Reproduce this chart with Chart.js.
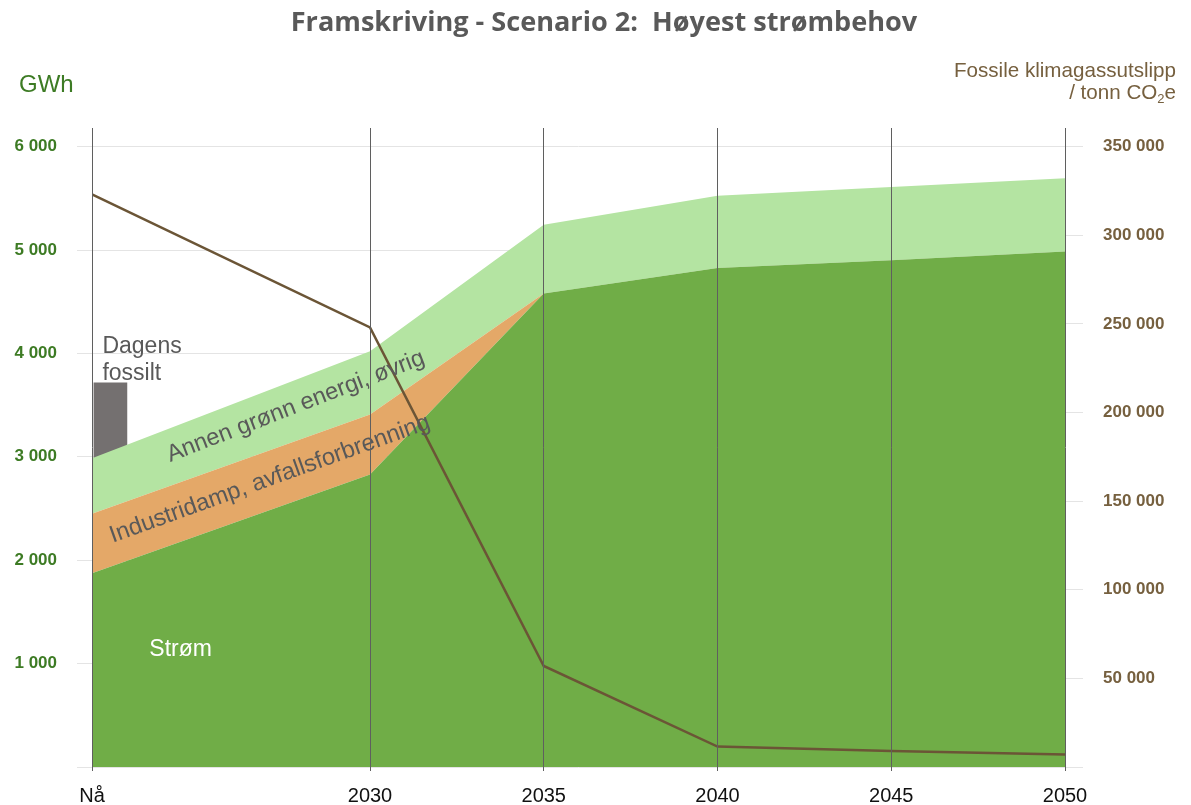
<!DOCTYPE html>
<html>
<head>
<meta charset="utf-8">
<script src="https://cdn.jsdelivr.net/npm/chart.js@4"></script>
<style>
  html, body { margin: 0; padding: 0; background: #fff; }
  #wrap { width: 1191px; height: 805px; position: relative; }
</style>
</head>
<body>
<div id="wrap"><canvas id="chart"></canvas></div>
<script>
// Framskriving - Scenario 2: energibehov (GWh) og fossile utslipp (tonn CO2e)
const years = [2022, 2030, 2035, 2040, 2045, 2050];
const yearLabels = ["Nå", "2030", "2035", "2040", "2045", "2050"];
const gwhTicks = [0, 1000, 2000, 3000, 4000, 5000, 6000];
const co2Ticks = [0, 50000, 100000, 150000, 200000, 250000, 300000, 350000];

// GWh, stacked
const strom = [1875, 2830, 4580, 4825, 4900, 4985];
const industridamp = [575, 580, 0, 0, 0, 0];
const annenGronn = [535, 610, 665, 700, 710, 710];

// Dagens fossilt (floating bar next to "Nå")
const dagensFossilt = [2985, 3715];
const dagensFossiltX = 2022.53;

// tonn CO2e
const utslipp = [323000, 248000, 57000, 11500, 9000, 7000];

const leftMax = 6180;
const rightMax = leftMax * 350000 / 6000;

const GREEN_TXT = "#3D7B24";
const BROWN_TXT = "#76603F";
const GREY_TXT = "#595959";
const FONT = "'Liberation Sans', Arial, sans-serif";

function fmt(v) {
  return String(v).replace(/\B(?=(\d{3})+(?!\d))/g, " ");
}

const annotations = {
  id: "annotations",
  afterDatasetsDraw(chart) {
    const { ctx, scales } = chart;
    const x = scales.x, y = scales.y;
    ctx.save();
    ctx.fillStyle = GREY_TXT;
    ctx.textAlign = "left";
    ctx.textBaseline = "alphabetic";
    ctx.font = `23px ${FONT}`;
    ctx.fillText("Dagens", x.getPixelForValue(2022.3), y.getPixelForValue(4000));
    ctx.fillText("fossilt", x.getPixelForValue(2022.3), y.getPixelForValue(3740));

    const rotated = [
      { text: "Annen grønn energi, øvrig", x: 2024.25, y: 2950, angle: -21.1, size: 23.6 },
      { text: "Industridamp, avfallsforbrenning", x: 2022.6, y: 2170, angle: -19.8, size: 23.8 },
    ];
    rotated.forEach((r) => {
      ctx.save();
      ctx.font = `${r.size}px ${FONT}`;
      ctx.translate(x.getPixelForValue(r.x), y.getPixelForValue(r.y));
      ctx.rotate(r.angle * Math.PI / 180);
      ctx.fillText(r.text, 0, 0);
      ctx.restore();
    });

    ctx.fillStyle = "#ffffff";
    ctx.fillText("Strøm", x.getPixelForValue(2023.65), y.getPixelForValue(1070));
    ctx.restore();
  },
  afterDraw(chart) {
    const { ctx } = chart;
    ctx.save();
    // title, fitted to the reference width
    const title = "Framskriving - Scenario 2:  Høyest strømbehov";
    ctx.font = "bold 24px 'Open Sans', sans-serif";
    const w = ctx.measureText(title).width;
    const size = 24 * 626 / w;
    ctx.font = `bold ${size.toFixed(1)}px 'Open Sans', sans-serif`;
    ctx.fillStyle = GREY_TXT;
    ctx.textAlign = "center";
    ctx.textBaseline = "middle";
    ctx.fillText(title, 604, 23);

    ctx.textBaseline = "alphabetic";
    ctx.textAlign = "left";
    ctx.fillStyle = GREEN_TXT;
    ctx.font = `24px ${FONT}`;
    ctx.fillText("GWh", 19, 92);

    ctx.fillStyle = BROWN_TXT;
    ctx.textAlign = "right";
    ctx.font = `20.6px ${FONT}`;
    ctx.fillText("Fossile klimagassutslipp", 1176, 77);
    // "/ tonn CO2e" with subscript 2
    const right = 1176, base = 99;
    const eW = ctx.measureText("e").width;
    ctx.font = `13px ${FONT}`;
    const subW = ctx.measureText("2").width;
    ctx.fillText("2", right - eW, base + 4);
    ctx.font = `20.6px ${FONT}`;
    ctx.fillText("e", right, base);
    ctx.fillText("/ tonn CO", right - eW - subW, base);
    ctx.restore();
  },
};

new Chart(document.getElementById("chart"), {
  type: "line",
  data: {
    datasets: [
      { label: "Strøm", data: years.map((yr, i) => ({ x: yr, y: strom[i] })), yAxisID: "y", stack: "energi", backgroundColor: "#70AD47", borderWidth: 0, pointRadius: 0, fill: "origin", order: 2 },
      { label: "Industridamp, avfallsforbrenning", data: years.map((yr, i) => ({ x: yr, y: industridamp[i] })), yAxisID: "y", stack: "energi", backgroundColor: "#E4A868", borderWidth: 0, pointRadius: 0, fill: "-1", order: 2 },
      { label: "Annen grønn energi, øvrig", data: years.map((yr, i) => ({ x: yr, y: annenGronn[i] })), yAxisID: "y", stack: "energi", backgroundColor: "#B4E4A2", borderWidth: 0, pointRadius: 0, fill: "-1", order: 2 },
      { type: "bar", label: "Dagens fossilt", data: [{ x: dagensFossiltX, y: dagensFossilt }], yAxisID: "y", stack: "fossilt", backgroundColor: "#747070", barThickness: 33, order: 2 },
      { label: "Fossile klimagassutslipp", data: years.map((yr, i) => ({ x: yr, y: utslipp[i] })), yAxisID: "y2", borderColor: "#6B5536", borderWidth: 2.5, pointRadius: 0, fill: false, tension: 0, order: 0 },
    ],
  },
  options: {
    responsive: true, maintainAspectRatio: false, animation: false,
    layout: { padding: { top: 128, left: 0, right: 0, bottom: 0 } },
    plugins: { legend: { display: false }, tooltip: { enabled: false }, title: { display: false } },
    scales: {
      x: {
        type: "linear", min: years[0], max: years[years.length - 1], offset: false,
        afterBuildTicks: (s) => { s.ticks = years.map((v) => ({ value: v })); },
        afterFit: (s) => { s.height = 38; },
        grid: { color: "#5f5f5f", lineWidth: 1, drawTicks: true, tickLength: 4, offset: false, z: 1 },
        border: { display: false },
        ticks: { color: "#111", font: { family: FONT, size: 20 }, padding: 13, maxRotation: 0, autoSkip: false, callback: (v) => yearLabels[years.indexOf(v)] },
      },
      y: {
        position: "left", stacked: true, min: 0, max: leftMax,
        afterBuildTicks: (s) => { s.ticks = gwhTicks.map((v) => ({ value: v })); },
        afterFit: (s) => { s.width = 92; },
        grid: { color: "#E4E4E4", drawTicks: true, tickLength: 15 },
        border: { display: false },
        ticks: { padding: 20, autoSkip: false, color: GREEN_TXT, font: { family: FONT, size: 17, weight: "bold" }, callback: (v) => (v > 0 ? fmt(v) : "") },
      },
      y2: {
        position: "right", min: 0, max: rightMax,
        afterBuildTicks: (s) => { s.ticks = co2Ticks.map((v) => ({ value: v })); },
        afterFit: (s) => { s.width = 126; },
        grid: { drawOnChartArea: false, color: "#E4E4E4", drawTicks: true, tickLength: 18 },
        border: { display: false },
        ticks: { padding: 20, autoSkip: false, color: BROWN_TXT, font: { family: FONT, size: 17, weight: "bold" }, callback: (v) => (v > 0 ? fmt(v) : "") },
      },
    },
  },
  plugins: [annotations],
});
</script>
</body>
</html>
